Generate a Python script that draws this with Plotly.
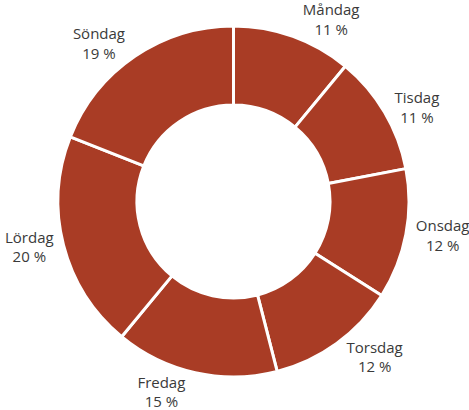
import plotly.graph_objects as go

days = ["Måndag", "Tisdag", "Onsdag", "Torsdag", "Fredag", "Lördag", "Söndag"]
shares = [11, 11, 12, 12, 15, 20, 19]

labels_text = [f"{d}<br>{v} %" for d, v in zip(days, shares)]

fig = go.Figure(go.Pie(
    labels=days,
    values=shares,
    text=labels_text,
    textinfo="text",
    textposition="outside",
    automargin=False,
    hole=0.55,
    sort=False,
    direction="clockwise",
    rotation=0,
    marker=dict(colors=["#a93c25"] * len(days), line=dict(color="white", width=3)),
    textfont=dict(family="Open Sans", size=15, color="#3a3a3a"),
    showlegend=False,
    hoverinfo="label+percent",
))

fig.update_layout(
    width=469, height=410,
    margin=dict(l=58, r=60, t=26, b=33),
    paper_bgcolor="white",
    plot_bgcolor="white",
)

fig.write_html("out.html", config={"displayModeBar": False},
               post_script="document.body.style.margin='0';")
